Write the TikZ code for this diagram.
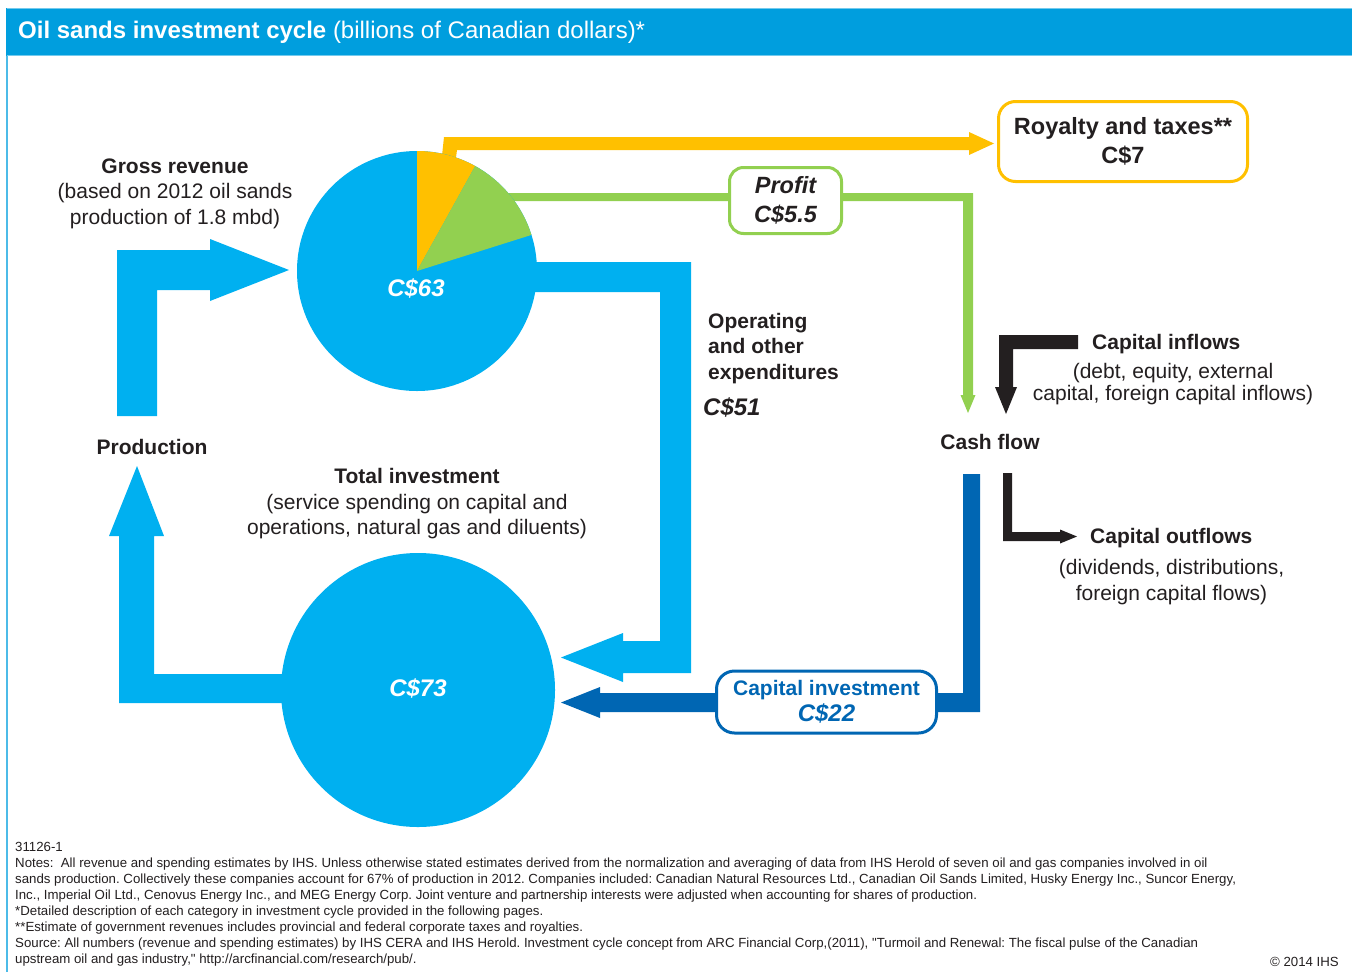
\documentclass[tikz,border=0pt]{standalone}
\usepackage{fontspec}
\setmainfont{Liberation Sans}
\definecolor{hdr}{RGB}{0,158,222}
\definecolor{lblue}{RGB}{0,176,240}
\definecolor{dblue}{RGB}{0,102,179}
\definecolor{gold}{RGB}{255,192,0}
\definecolor{lgreen}{RGB}{146,208,80}
\definecolor{txt}{RGB}{35,31,32}
\frenchspacing
\begin{document}
\begin{tikzpicture}[x=1bp,y=-1bp,
  lbl/.style={font=\fontsize{21bp}{25.5bp}\selectfont, text=txt, inner sep=0pt, align=center},
  bld/.style={font=\fontsize{21bp}{25.5bp}\selectfont\bfseries, text=txt, inner sep=0pt, align=center},
  val/.style={font=\fontsize{24bp}{28bp}\selectfont\bfseries\itshape, inner sep=0pt, align=center},
  rbox/.style={draw, line width=3bp, rounded corners=17bp, fill=white, inner sep=0pt, align=center},
  note/.style={font=\fontsize{13.25bp}{16bp}\selectfont, text=txt, inner sep=0pt}
]
\useasboundingbox (0,0) rectangle (1352,972);
\fill[white] (0,0) rectangle (1352,972);
% frame and header
\draw[hdr!70, line width=1.5bp] (7,56) -- (7,972);
\fill[hdr] (6,8) rectangle (1352,56);
\draw[hdr!55, line width=1bp] (6.5,8.5) -- (1352,8.5);
\draw[hdr!55, line width=1bp] (6.5,55.5) -- (1352,55.5);
\node[anchor=west, text=white, font=\fontsize{24bp}{28bp}\selectfont, inner sep=0pt] (title) at (18,32)
  {\textbf{Oil sands investment cycle} (billions of Canadian dollars)*};

% upper production arrow
\fill[lblue] (117,416) -- (117,250) -- (210,250) -- (210,239) -- (289,270) -- (210,301) -- (210,290) -- (157,290) -- (157,416) -- cycle;
% lower production arrow
\fill[lblue] (300,674) -- (154,674) -- (154,536) -- (164,536) -- (137,466) -- (109,536) -- (119,536) -- (119,703) -- (300,703) -- cycle;
% operating expenditures arrow
\fill[lblue] (500,262) -- (691,262) -- (691,673) -- (623,673) -- (623,682) -- (561,657.5) -- (623,633) -- (623,641) -- (660,641) -- (660,292) -- (500,292) -- cycle;
% royalty arrow
\fill[gold] (441,165) -- (444,137) -- (969,137) -- (969,132) -- (994,143.5) -- (969,155) -- (969,150) -- (457,150) -- (455,165) -- cycle;
% profit arrow
\fill[lgreen] (490,193) -- (973,193) -- (973,395) -- (975.5,395) -- (968,413) -- (960.5,395) -- (963,395) -- (963,201) -- (490,201) -- cycle;
% capital investment arrow
\fill[dblue] (980,474) -- (980,712) -- (600,712) -- (600,718) -- (561,702.5) -- (600,687) -- (600,693) -- (963,693) -- (963,474) -- cycle;
% capital inflows arrow
\fill[txt] (1078,335) -- (999,335) -- (999,387) -- (995,387) -- (1006,414) -- (1017,387) -- (1013,387) -- (1013,349) -- (1078,349) -- cycle;
% capital outflows arrow
\fill[txt] (1003,473) -- (1003,541) -- (1060,541) -- (1060,543.5) -- (1077,536.5) -- (1060,529.5) -- (1060,532) -- (1012,532) -- (1012,473) -- cycle;

% pie
\node[circle, fill=lblue, minimum size=240bp, inner sep=0pt] (pie) at (417,271) {};
\fill[gold] (pie.center) -- ++(-90:120) arc[start angle=-90, end angle=-61, radius=120] -- cycle;
\fill[lgreen] (pie.center) -- ++(-61:120) arc[start angle=-61, end angle=-17.5, radius=120] -- cycle;
\node[val, text=white] (c63) at (416,288) {C\$63};
% investment circle
\node[circle, fill=lblue, minimum size=274bp, inner sep=0pt] (inv) at (418,690) {};
\node[val, text=white] (c73) at (418,688) {C\$73};

% boxes
\node[rbox, draw=gold, minimum width=249bp, minimum height=80bp, text=txt,
      font=\fontsize{23.5bp}{29bp}\selectfont\bfseries] (royal) at (1123,141.5)
  {Royalty and taxes**\\C\$7};
\node[rbox, draw=lgreen, minimum width=112bp, minimum height=66bp, text=txt, rounded corners=14bp,
      font=\fontsize{23.5bp}{29bp}\selectfont\bfseries\itshape] (profit) at (785.5,200.5)
  {Profit\\C\$5.5};
\node[rbox, draw=dblue, minimum width=220bp, minimum height=62bp, text=dblue, rounded corners=18bp,
      font=\fontsize{21bp}{26bp}\selectfont\bfseries] (capinv) at (826.5,702)
  {Capital investment\\{\fontsize{24bp}{26bp}\selectfont\itshape C\$22}};

% labels
\node[lbl] (gross) at (175,193.5) {\textbf{Gross revenue}\\(based on 2012 oil sands\\production of 1.8 mbd)};
\node[lbl] (totinv) at (417,504) {\textbf{Total investment}\\(service spending on capital and\\operations, natural gas and diluents)};
\node[bld, anchor=west, align=left] (oper) at (708,348.5) {Operating\\and other\\expenditures};
\node[val, text=txt, anchor=west] (c51) at (703,407) {C\$51};
\node[bld] (prod) at (152,447) {Production};
\node[bld] (cash) at (990,442) {Cash flow};
\node[bld, anchor=west] (inflow) at (1092,344) {Capital inflows};
\node[lbl, font=\fontsize{21bp}{22bp}\selectfont] (inflowsub) at (1173,384) {(debt, equity, external\\capital, foreign capital inflows)};
\node[bld, anchor=west] (outflow) at (1090,538.5) {Capital outflows};
\node[lbl] (outflowsub) at (1171.5,582) {(dividends, distributions,\\foreign capital flows)};

% notes
\node[note, anchor=north west, align=left] (notes) at (15,842.5) {31126-1\\
Notes:\ \ All revenue and spending estimates by IHS. Unless otherwise stated estimates derived from the normalization and averaging of data from IHS Herold of seven oil and gas companies involved in oil\\
sands production. Collectively these companies account for 67\% of production in 2012. Companies included: Canadian Natural Resources Ltd., Canadian Oil Sands Limited, Husky Energy Inc., Suncor Energy,\\
Inc., Imperial Oil Ltd., Cenovus Energy Inc., and MEG Energy Corp. Joint venture and partnership interests were adjusted when accounting for shares of production.\\
*Detailed description of each category in investment cycle provided in the following pages.\\
**Estimate of government revenues includes provincial and federal corporate taxes and royalties.\\
Source: All numbers (revenue and spending estimates) by IHS CERA and IHS Herold. Investment cycle concept from ARC Financial Corp,(2011), \textquotedbl Turmoil and Renewal: The fiscal pulse of the Canadian\\
upstream oil and gas industry,\textquotedbl{} http://arcfinancial.com/research/pub/.};
\node[note, anchor=east] (copyr) at (1339,962) {\textcopyright{} 2014 IHS};
\end{tikzpicture}
\end{document}
